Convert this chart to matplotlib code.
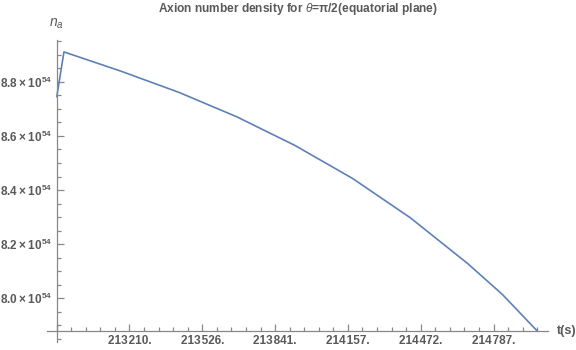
import matplotlib
matplotlib.use("Agg")
import matplotlib.pyplot as plt
from matplotlib.ticker import FixedLocator

plt.rcParams['font.family'] = ['Liberation Sans', 'DejaVu Sans']
plt.rcParams['mathtext.fontset'] = 'custom'
plt.rcParams['mathtext.rm'] = 'Liberation Sans:bold'
plt.rcParams['mathtext.it'] = 'Liberation Sans:italic'
plt.rcParams['mathtext.bf'] = 'Liberation Sans:bold'

# data (n_a in units of 1e54)
t_s = [212895, 212926, 213176, 213426, 213676, 213926, 214176, 214426, 214676, 214826, 214977]
n_a = [8.745, 8.910, 8.838, 8.760, 8.670, 8.565, 8.443, 8.298, 8.128, 8.014, 7.879]

x_origin = 212894.6
x_step = 315.4
x_labels = ["", "213\u200a210.", "213\u200a526.", "213\u200a841.", "214\u200a157.", "214\u200a472.", "214\u200a787."]
y_ticks = [8.0, 8.2, 8.4, 8.6, 8.8]
y_labels = ["8.0\u2009×\u2009$10^{54}$", "8.2\u2009×\u2009$10^{54}$", "8.4\u2009×\u2009$10^{54}$",
            "8.6\u2009×\u2009$10^{54}$", "8.8\u2009×\u2009$10^{54}$"]
y_origin = 7.879

gray = "#595959"
axcol = "#888888"

fig = plt.figure(figsize=(5.76, 3.5), dpi=100)
ax = fig.add_axes([47/576, 1-342/350, 501/576, 302/350])

ax.plot(t_s, n_a, color="#5E81B5", lw=1.2)

ax.set_xlim(212852.6, 215023)
ax.set_ylim(7.839, 8.954)

ax.spines['left'].set_position(('data', x_origin))
ax.spines['bottom'].set_position(('data', y_origin))
ax.spines['right'].set_visible(False)
ax.spines['top'].set_visible(False)
for s in ('left', 'bottom'):
    ax.spines[s].set_color(axcol)
    ax.spines[s].set_linewidth(0.9)

xmaj = [x_origin + k * x_step for k in range(len(x_labels))]
ax.xaxis.set_major_locator(FixedLocator(xmaj))
ax.set_xticklabels(x_labels)
ax.xaxis.set_minor_locator(FixedLocator([x_origin + k * x_step / 5 for k in range(-1, 34)]))
ax.yaxis.set_major_locator(FixedLocator(y_ticks))
ax.set_yticklabels(y_labels)
ax.yaxis.set_minor_locator(FixedLocator([7.80 + 0.05 * k for k in range(24)]))

ax.tick_params(which='both', direction='in', color=axcol, labelcolor=gray, labelsize=8.5, width=0.9)
ax.tick_params(which='major', length=5, pad=3)
ax.tick_params(which='minor', length=3)
for lab in ax.get_xticklabels() + ax.get_yticklabels():
    lab.set_fontweight('bold')

ax.set_title(r"Axion number density for $\theta$=π/2(equatorial plane)",
             fontsize=8.6, color=gray, fontweight='bold', pad=0, y=1.0 + 28/302)

fig.text(56/576, 1-24/350, r"$n_a$", ha='center', va='center', fontsize=10, color=gray)
fig.text(557/576, 1-331/350, "t(s)", ha='left', va='center', fontsize=9, color=gray, fontweight='bold')

fig.savefig("out.png", dpi=100)
